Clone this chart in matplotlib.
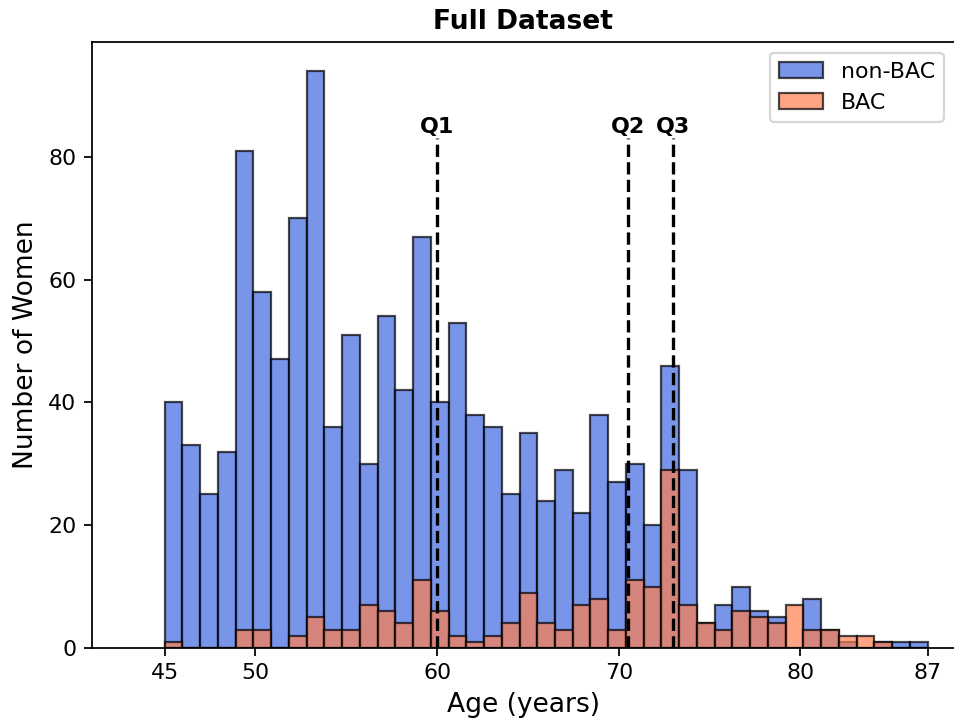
import numpy as np
import matplotlib
matplotlib.use('Agg')
import matplotlib.pyplot as plt

# Age histogram counts, 43 bins between 45 and 87 years
age_min, age_max, n_bins = 45, 87, 43
non_bac_counts = [40, 33, 25, 32, 81, 58, 47, 70, 94, 36, 51, 30, 54, 42, 67,
                  40, 53, 38, 36, 25, 35, 24, 29, 22, 38, 27, 30, 20, 46, 29,
                  4, 7, 10, 6, 5, 0, 8, 3, 1, 0, 1, 1, 1]
bac_counts = [1, 0, 0, 0, 3, 3, 0, 2, 5, 3, 3, 7, 6, 4, 11,
              6, 2, 1, 2, 4, 9, 4, 3, 7, 8, 3, 11, 10, 29, 7,
              4, 3, 6, 5, 4, 7, 3, 3, 2, 2, 1, 0, 0]

# quartiles of age
quartile_labels = ['Q1', 'Q2', 'Q3']
quartile_ages = [60.0, 70.5, 73.0]
quartile_top = 83

xtick_values = [45, 50, 60, 70, 80, 87]
ytick_values = [0, 20, 40, 60, 80]

edges = np.linspace(age_min, age_max, n_bins + 1)
centers = 0.5 * (edges[:-1] + edges[1:])

dpi = 159
fig = plt.figure(figsize=(954 / dpi, 725.01 / dpi), dpi=dpi)
ax = fig.add_axes([0.0964, 0.1062, 0.9045, 0.8359])

ax.hist(centers, bins=edges, weights=non_bac_counts, color='royalblue',
        alpha=0.7, edgecolor='black', label='non-BAC')
ax.hist(centers, bins=edges, weights=bac_counts, color='coral',
        alpha=0.7, edgecolor='black', label='BAC')

# dashed lines at the quartiles
for lab, q in zip(quartile_labels, quartile_ages):
    ax.vlines(q, 0, quartile_top, colors='black', linestyles='--', linewidth=1.5)
    ax.text(q, quartile_top + 0.2, lab, ha='center', va='bottom',
            fontsize=10, fontweight='bold')

ax.set_xlim(41, 88.5)
ax.set_ylim(0, 98.7)
ax.set_xticks(xtick_values)
ax.set_yticks(ytick_values)
ax.tick_params(labelsize=10)

ax.set_xlabel('Age (years)', fontsize=12)
ax.set_ylabel('Number of Women', fontsize=12)
ax.set_title('Full Dataset', fontsize=12, fontweight='bold')
ax.legend(loc='upper right', fontsize=10)

fig.savefig('out.png', dpi=dpi)
